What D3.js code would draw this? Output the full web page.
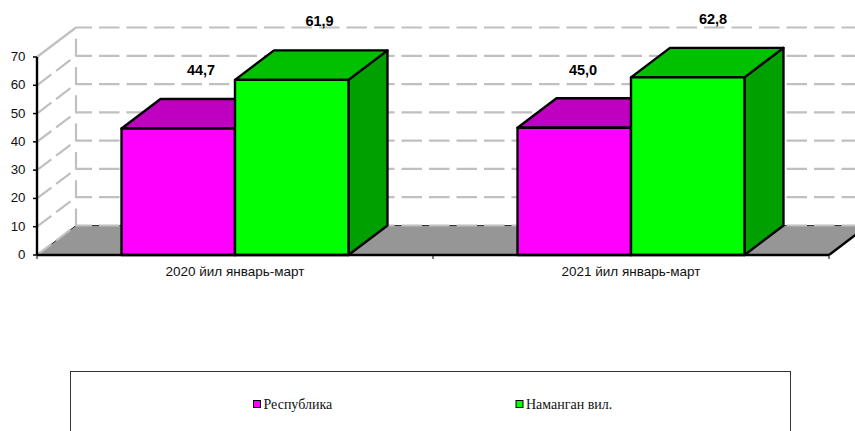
<!DOCTYPE html>
<html><head><meta charset="utf-8">
<script src="https://cdn.jsdelivr.net/npm/d3@7"></script>
<style>html,body{margin:0;padding:0;background:#fff;overflow:hidden}svg{display:block}</style>
</head><body><svg id="c" width="855" height="431"></svg>
<script>
const categories = ["2020 йил январь-март", "2021 йил январь-март"];
const seriesNames = ["Республика", "Наманган вил."];
const republicValues = [44.7, 45.0];
const namanganValues = [61.9, 62.8];
const valueLabels = [["44,7", "45,0"], ["61,9", "62,8"]];
const yTicks = [0, 10, 20, 30, 40, 50, 60, 70];
const frontColors = ["#ff00ff", "#00ff00"];
const topColors = ["#c000c0", "#00c000"];
const sideColors = ["#a000a0", "#00a000"];

const svg = d3.select("#c");
const dx = 39, dy = -29.5;
const x = d3.scaleBand().domain(categories).range([37, 829]);
const inner = d3.scaleBand().domain([0, 1]).range([0, x.bandwidth()]).paddingOuter(0.745).paddingInner(0);
const y = d3.scaleLinear().domain([0, 70]).range([255, 57]);
const line = d3.line();
const grid = "#c0c0c0";

// floor
svg.append("path").attr("fill", "#969696")
  .attr("d", line([[37, y(0)], [37 + dx, y(0) + dy], [829 + dx, y(0) + dy], [829, y(0)]]) + "Z");
svg.append("path").attr("fill", "none").attr("stroke", "#333").attr("stroke-width", 1)
  .attr("d", line([[37, y(0)], [37 + dx, y(0) + dy], [855, y(0) + dy]]));

// walls
yTicks.forEach(t => {
  svg.append("path").attr("fill", "none").attr("stroke", grid).attr("stroke-width", 2.2)
    .attr("stroke-dasharray", t === 70 ? null : "18 6")
    .attr("d", line([[37, y(t)], [37 + dx, y(t) + dy]]));
  svg.append("path").attr("fill", "none").attr("stroke", grid).attr("stroke-width", 2.2)
    .attr("stroke-dasharray", "20.5 7").attr("stroke-dashoffset", 4.5)
    .attr("d", line([[37 + dx, y(t) + dy], [855, y(t) + dy]]));
});
svg.append("path").attr("fill", "none").attr("stroke", grid).attr("stroke-width", 2.2)
  .attr("stroke-dasharray", "17 11.3")
  .attr("d", line([[37 + dx, y(0) + dy], [37 + dx, y(70) + dy]]));

// bars
[republicValues, namanganValues].forEach((vals, s) => {
  vals.forEach((v, c) => {
    const x0 = x(categories[c]) + inner(s), x1 = x0 + inner.bandwidth();
    const yT = y(v), yB = y(0);
    const g = svg.append("g").attr("stroke", "#000").attr("stroke-width", 2.4).attr("stroke-linejoin", "round");
    g.append("path").attr("fill", sideColors[s])
      .attr("d", line([[x1, yT], [x1 + dx, yT + dy], [x1 + dx, yB + dy], [x1, yB]]) + "Z");
    g.append("path").attr("fill", topColors[s])
      .attr("d", line([[x0, yT], [x0 + dx, yT + dy], [x1 + dx, yT + dy], [x1, yT]]) + "Z");
    g.append("rect").attr("x", x0).attr("y", yT).attr("width", x1 - x0).attr("height", yB - yT).attr("fill", frontColors[s]);
  });
});

// axes
const axisLines = svg.append("g").attr("stroke", "#000").attr("stroke-width", 2.4).attr("fill", "none");
axisLines.append("path").attr("d", line([[37, y(0)], [37, y(70)]]));
axisLines.append("path").attr("d", line([[37, y(0)], [829, y(0)]]));
axisLines.append("path").attr("d", line([[829, y(0)], [829 + dx, y(0) + dy]]));
yTicks.forEach(t => axisLines.append("path").attr("stroke-width", 1.5).attr("d", line([[33, y(t)], [37, y(t)]])));
[37, 433, 829].forEach(px => axisLines.append("path").attr("stroke-width", 1).attr("d", line([[px, y(0)], [px, y(0) + 4]])));

const sans = "'Liberation Sans', Arial, sans-serif";
svg.append("g").selectAll("text").data(yTicks).join("text")
  .attr("x", 25.5).attr("y", d => y(d) + 4).attr("text-anchor", "end")
  .attr("font-family", sans).attr("font-size", 13.3).attr("fill", "#111").text(d => d);
svg.append("g").selectAll("text").data(categories).join("text")
  .attr("x", d => x(d) + x.bandwidth() / 2).attr("y", 275.5).attr("text-anchor", "middle")
  .attr("font-family", sans).attr("font-size", 13.5).attr("fill", "#111").text(d => d);

// data labels
const labelAt = [[[201, 75], [583, 75]], [[319.5, 26], [713, 24]]];
valueLabels.forEach((row, s) => row.forEach((t, c) => {
  svg.append("text").attr("x", labelAt[s][c][0]).attr("y", labelAt[s][c][1]).attr("text-anchor", "middle")
    .attr("font-family", sans).attr("font-size", 14.5).attr("font-weight", "bold").attr("fill", "#000").text(t);
}));

// legend
svg.append("rect").attr("x", 70.5).attr("y", 371.5).attr("width", 720).attr("height", 70)
  .attr("fill", "#fff").attr("stroke", "#333").attr("stroke-width", 1);
const legendX = [253.5, 516];
seriesNames.forEach((n, i) => {
  svg.append("rect").attr("x", legendX[i]).attr("y", 400.5).attr("width", 7).attr("height", 7)
    .attr("fill", frontColors[i]).attr("stroke", "#000").attr("stroke-width", 1);
  svg.append("text").attr("x", legendX[i] + 10).attr("y", 408.5)
    .attr("font-family", "'Liberation Serif', 'Times New Roman', serif").attr("font-size", 14).attr("fill", "#111").text(n);
});
</script></body></html>
